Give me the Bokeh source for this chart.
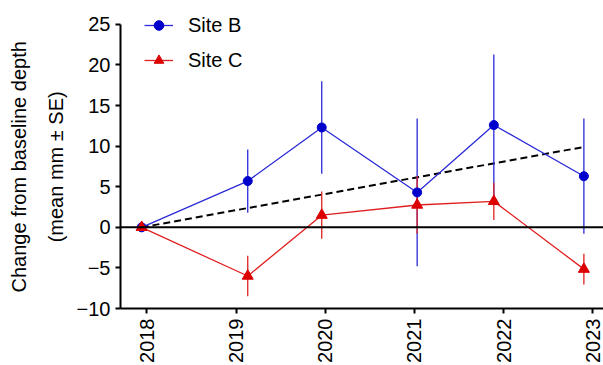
import math
from bokeh.plotting import figure
from bokeh.models import FixedTicker, Span, Legend, LegendItem
from bokeh.embed import file_html
from bokeh.resources import INLINE

# ---- data (decimal years of sampling) ----
sample_years = [2017.94, 2019.13, 2019.96, 2021.03, 2021.89, 2022.90]
site_b_mean = [0.0, 5.7, 12.3, 4.3, 12.6, 6.3]
site_b_se = [0.0, 3.9, 5.7, 9.1, 8.7, 7.1]
site_c_mean = [0.0, -6.0, 1.5, 2.75, 3.2, -5.15]
site_c_se = [0.0, 2.5, 2.9, 3.55, 2.3, 1.9]
trend_x = [2017.94, 2022.90]
trend_y = [0.0, 9.9]
year_ticks = [2018, 2019, 2020, 2021, 2022, 2023]
y_ticks = [-10, -5, 0, 5, 10, 15, 20, 25]
y_label_lines = ["Change from baseline depth", "(mean mm \u00b1 SE)"]

BLUE = "#0000CC"
BLUE_LINE = "#2a2ad8"
RED = "#DD0000"
RED_LINE = "#e02020"
FONT = "Liberation Sans"

p = figure(width=603, height=365, output_backend="svg", toolbar_location=None,
           x_range=(2017.703, 2023.12), y_range=(-10, 26.96),
           min_border_left=120, min_border_top=8, min_border_bottom=55, min_border_right=0)
p.outline_line_color = None
p.xgrid.visible = False
p.ygrid.visible = False
p.background_fill_color = None
p.border_fill_color = "white"

def lower(m, s):
    return [a - b for a, b in zip(m, s)]

def upper(m, s):
    return [a + b for a, b in zip(m, s)]

# zero line
p.add_layout(Span(location=0, dimension="width", line_color="black", line_width=2))

# trend
p.line(trend_x, trend_y, line_color="black", line_width=2, line_dash="7 4")

# Site B
lb = p.line(sample_years, site_b_mean, line_color=BLUE_LINE, line_width=1.3)
p.segment(x0=sample_years, x1=sample_years, y0=lower(site_b_mean, site_b_se),
          y1=upper(site_b_mean, site_b_se), line_color=BLUE_LINE, line_width=1.3)
# Site C
lc = p.line(sample_years, site_c_mean, line_color=RED_LINE, line_width=1.3)
p.segment(x0=sample_years, x1=sample_years, y0=lower(site_c_mean, site_c_se),
          y1=upper(site_c_mean, site_c_se), line_color=RED_LINE, line_width=1.3)

mb = p.scatter(sample_years, site_b_mean, marker="circle", size=9,
               fill_color=BLUE, line_color=BLUE)
mc = p.scatter(sample_years, site_c_mean, marker="triangle", size=11,
               fill_color=RED, line_color=RED)

legend = Legend(items=[LegendItem(label="Site B", renderers=[lb, mb]),
                       LegendItem(label="Site C", renderers=[lc, mc])],
                location=(24, 236), orientation="vertical")
legend.border_line_color = None
legend.background_fill_color = None
legend.background_fill_alpha = 0
legend.glyph_width = 29
legend.glyph_height = 24
legend.label_height = 24
legend.label_standoff = 15
legend.spacing = 11
legend.padding = 0
legend.margin = 0
legend.label_text_font = FONT
legend.label_text_font_size = "20px"
legend.label_text_color = "black"
p.add_layout(legend)

for ax in (p.xaxis, p.yaxis):
    ax.axis_line_width = 2
    ax.axis_line_color = "black"
    ax.major_tick_line_width = 2
    ax.major_tick_line_color = "black"
    ax.major_tick_out = 5
    ax.major_tick_in = 0
    ax.minor_tick_line_color = None
    ax.major_label_text_font = FONT
    ax.major_label_text_font_size = "20px"
    ax.major_label_text_color = "black"
    ax.major_label_standoff = 5

p.xaxis.ticker = FixedTicker(ticks=year_ticks)
p.yaxis.ticker = FixedTicker(ticks=y_ticks)
p.yaxis.bounds = (-10, 25)
p.xaxis.major_label_orientation = math.pi / 2

# trailing no-break spaces centre the label on the visible axis (-10..25)
pad = "\u00a0" * 3
p.yaxis.axis_label = "\n".join(line + pad for line in y_label_lines)
p.yaxis.axis_label_text_font = FONT
p.yaxis.axis_label_text_font_size = "20px"
p.yaxis.axis_label_text_font_style = "normal"
p.yaxis.axis_label_text_color = "black"
p.yaxis.axis_label_text_line_height = 1.65
p.yaxis.axis_label_standoff = 7

open("out.html", "w").write(file_html(p, INLINE))
